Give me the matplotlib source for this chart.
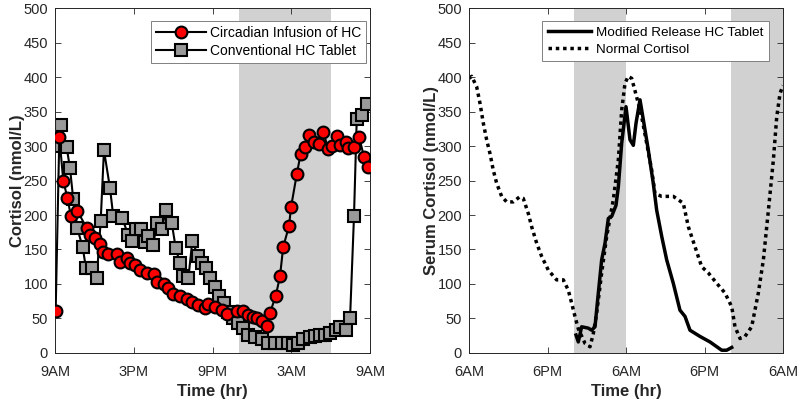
import matplotlib
matplotlib.use("Agg")
import matplotlib.pyplot as plt

plt.rcParams['font.family'] = ['Liberation Sans', 'DejaVu Sans']

# ---- Left panel: hours after 9AM, cortisol (nmol/L) ----
infusionHours = [0.05, 0.33, 0.63, 0.94, 1.22, 1.70, 2.42, 2.67, 3.05, 3.43, 3.68, 4.06,
                 4.75, 4.95, 5.46, 5.71, 6.10, 6.48, 7.03, 7.54, 7.75, 8.30, 8.63, 9.01,
                 9.52, 10.03, 10.42, 10.92, 11.43, 11.68, 12.19, 12.70, 13.08, 13.84,
                 14.35, 14.73, 15.11, 15.41, 15.79, 16.18, 16.38, 16.82, 17.14, 17.39,
                 17.83, 17.98, 18.42, 18.72, 19.05, 19.38, 19.73, 20.11, 20.44, 20.82,
                 21.08, 21.46, 21.71, 22.17, 22.35, 22.80, 23.18, 23.54, 23.82]
infusionCortisol = [61, 313, 250, 225, 198, 206, 181, 171, 167, 158, 147, 143,
                    143, 132, 138, 130, 127, 120, 116, 114, 103, 100, 94, 86,
                    82, 78, 74, 70, 65, 71, 67, 63, 57, 61,
                    61, 55, 52, 50, 47, 39, 58, 83, 111, 154,
                    184, 211, 259, 289, 298, 316, 306, 303, 320, 296,
                    300, 314, 301, 306, 297, 298, 313, 284, 269]

tabletHours = [0.05, 0.43, 0.89, 1.14, 1.39, 1.70, 2.11, 2.36, 2.80, 3.18, 3.48, 3.73,
               4.19, 4.44, 5.13, 5.58, 5.84, 6.17, 6.55, 6.86, 7.11, 7.49, 7.75, 8.13,
               8.46, 8.89, 9.20, 9.52, 9.78, 10.16, 10.46, 10.92, 11.22, 11.50, 11.81,
               12.19, 12.52, 12.88, 13.20, 13.58, 13.97, 14.35, 14.73, 15.24, 15.75,
               16.25, 16.76, 17.27, 17.78, 18.16, 18.54, 18.92, 19.43, 19.81, 20.19,
               20.57, 20.95, 21.41, 21.71, 22.17, 22.48, 22.78, 22.99, 23.37, 23.75]
tabletCortisol = [300, 331, 298, 268, 223, 181, 153, 123, 123, 109, 191, 294,
                  239, 198, 195, 171, 162, 179, 180, 161, 169, 157, 188, 180,
                  207, 189, 152, 130, 111, 108, 162, 140, 130, 123, 108,
                  96, 82, 72, 60, 50, 43, 36, 26, 23, 20,
                  15, 14, 14, 15, 12, 15, 20, 23, 24, 26,
                  26, 29, 33, 37, 34, 50, 198, 339, 345, 361]

leftNight = (14, 21)
leftTicks = [0, 6, 12, 18, 24]
leftTickLabels = ['9AM', '3PM', '9PM', '3AM', '9AM']

# ---- Right panel: hours after 6AM, serum cortisol (nmol/L) ----
modifiedHours = [16.36, 16.71, 17.22, 18.24, 18.75, 19.26, 19.77, 20.28, 20.79, 21.30,
                 21.81, 22.47, 22.83, 23.34, 24.00, 24.61, 25.12, 25.53, 26.14, 26.65,
                 27.41, 28.17, 28.69, 29.46, 30.22, 31.23, 32.25, 33.02, 33.78, 35.31,
                 36.84, 38.63, 39.39, 40.16]
modifiedCortisol = [26, 16, 38, 36, 33, 38, 87, 135, 159, 195,
                    198, 214, 241, 304, 357, 309, 301, 333, 367, 338,
                    294, 246, 207, 169, 135, 101, 62, 53, 33, 24,
                    16, 4, 4, 8]

normalHours = [0.0, 0.41, 1.17, 1.68, 2.19, 2.70, 3.21, 3.71, 4.23, 4.99, 5.76, 6.78,
               7.69, 8.30, 9.07, 9.58, 10.35, 11.11, 12.13, 13.40, 14.42, 15.18, 15.70,
               16.20, 16.71, 17.73, 18.50, 19.00, 19.52, 20.28, 21.05, 22.06, 22.83,
               23.34, 23.85, 24.35, 24.87, 25.63, 26.40, 27.16, 27.93, 28.43, 29.46,
               31.23, 32.76, 33.53, 34.55, 35.57, 36.59, 37.87, 39.13, 40.16, 40.66,
               41.43, 42.19, 43.21, 44.23, 45.00, 45.77, 46.53, 47.04, 47.54, 48.0]
normalCortisol = [398, 401, 386, 362, 333, 309, 289, 265, 246, 227, 219, 219,
                  226, 224, 202, 183, 159, 140, 120, 106, 106, 91, 72,
                  53, 35, 14, 9, 28, 58, 116, 169, 222, 280,
                  352, 391, 401, 398, 371, 342, 304, 265, 231, 227,
                  227, 217, 183, 154, 125, 116, 101, 87, 67, 38,
                  21, 24, 38, 87, 135, 207, 280, 342, 376, 388]

rightNights = [(16, 24), (40, 48)]
rightTicks = [0, 12, 24, 36, 48]
rightTickLabels = ['6AM', '6PM', '6AM', '6PM', '6AM']

yTicks = list(range(0, 501, 50))
shadeColor = '0.82'
axisColor = '0.15'


def styleAxes(ax, ticks, tickLabels, xMax, yLabel):
    """Aplica el estilo tipo MATLAB a los ejes"""
    ax.set_xlim(0, xMax)
    ax.set_ylim(0, 500)
    ax.set_xticks(ticks)
    ax.set_xticklabels(tickLabels)
    ax.set_yticks(yTicks)
    ax.tick_params(direction='in', top=True, right=True, length=4, width=0.6,
                   labelsize=10.5, colors=axisColor)
    ax.tick_params(axis='x', pad=9)
    ax.tick_params(axis='y', pad=5)
    for spine in ax.spines.values():
        spine.set_color(axisColor)
        spine.set_linewidth(0.7)
    ax.set_xlabel('Time (hr)', fontsize=12, fontweight='bold', color=axisColor, labelpad=3)
    ax.set_ylabel(yLabel, fontsize=12, fontweight='bold', color=axisColor, labelpad=-1)


fig = plt.figure(figsize=(8, 4.03), dpi=100)
axLeft = fig.add_axes([0.06875, 0.1241, 0.39375, 0.856])
axRight = fig.add_axes([0.58625, 0.1241, 0.3925, 0.856])

# Panel izquierdo
axLeft.axvspan(leftNight[0], leftNight[1], color=shadeColor, lw=0, zorder=0)
axLeft.plot(infusionHours, infusionCortisol, '-o', color='k', lw=1.5,
            markerfacecolor='red', markeredgecolor='k', markeredgewidth=1.5,
            markersize=8.5, label='Circadian Infusion of HC', zorder=3)
axLeft.plot(tabletHours, tabletCortisol, '-s', color='k', lw=1.5,
            markerfacecolor='0.6', markeredgecolor='k', markeredgewidth=1.5,
            markersize=8.5, label='Conventional HC Tablet', zorder=2)
styleAxes(axLeft, leftTicks, leftTickLabels, 24, 'Cortisol (nmol/L)')
legLeft = axLeft.legend(loc='upper right', bbox_to_anchor=(0.988, 0.962), fontsize=10,
                        fancybox=False, edgecolor='0.5', framealpha=1,
                        handlelength=3.6, borderpad=0.35, labelspacing=0.3,
                        handletextpad=0.3, borderaxespad=0)
legLeft.get_frame().set_linewidth(0.7)

# Panel derecho
for start, end in rightNights:
    axRight.axvspan(start, end, color=shadeColor, lw=0, zorder=0)
axRight.plot(modifiedHours, modifiedCortisol, '-', color='k', lw=2.5,
             label='Modified Release HC Tablet')
axRight.plot(normalHours, normalCortisol, linestyle=(0, (1, 1.1)), color='k', lw=2.5,
             label='Normal Cortisol')
styleAxes(axRight, rightTicks, rightTickLabels, 48, 'Serum Cortisol (nmol/L)')
legRight = axRight.legend(loc='upper right', bbox_to_anchor=(0.955, 0.962), fontsize=9.7,
                          fancybox=False, edgecolor='0.5', framealpha=1,
                          handlelength=3.2, borderpad=0.4, labelspacing=0.35,
                          handletextpad=0.4, borderaxespad=0)
legRight.get_frame().set_linewidth(0.7)

fig.savefig('out.png', dpi=100)
